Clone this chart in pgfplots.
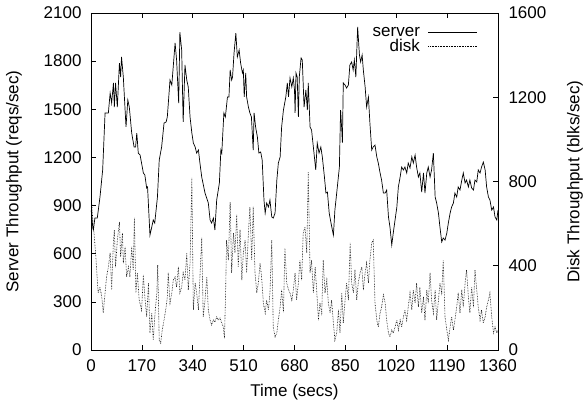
\documentclass[border=0pt]{standalone}
\usepackage{fontspec}
\setmainfont{Liberation Sans}
\usepackage{pgfplots}
\pgfplotsset{compat=1.18}

\begin{document}
\begin{tikzpicture}
\path[use as bounding box] (-91bp,-61bp) rectangle (493bp,350bp);
\pgfplotsset{
  every axis/.append style={
    width=407bp, height=337bp, scale only axis,
    font=\fontsize{17bp}{19bp}\selectfont,
    /pgf/number format/assume math mode=true,
    /pgf/number format/1000 sep={},
    axis line style={line width=0.8bp},
    every tick/.style={black, line width=0.6bp},
    major tick length=5bp,
    tick align=inside,
    xmin=0, xmax=1360,
  },
}
% left axis: server
\begin{axis}[
  ymin=0, ymax=2100,
  xtick distance=170, ytick distance=300,
  xtick pos=both, ytick pos=left,
  xlabel={Time (secs)},
  ylabel={Server Throughput (reqs/sec)},
  x label style={at={(axis description cs:0.5,-0.125)}, anchor=center},
  y label style={at={(axis description cs:-0.189,0.5)}, anchor=center},
  xticklabel style={yshift=-6bp},
  yticklabel style={xshift=-6bp},
]
\addplot[black, line width=0.7bp] coordinates {
(0,870) (2,853) (6,760) (8,748) (13,822) (21,822) (30,953) (39,1122) (47,1477) (58,1477)
(64,1601) (69,1539) (75,1664) (78,1514) (82,1664) (88,1514) (95,1788) (99,1701) (102,1826) (108,1701)
(117,1390) (123,1558) (128,1514) (136,1352) (144,1265) (149,1265) (153,1352) (158,1227) (164,1215) (175,1103)
(180,1090) (186,1009) (189,1016) (197,716) (203,766) (208,810) (213,791) (222,953) (228,1184) (236,1265)
(244,1414) (251,1421) (255,1452) (264,1682) (270,1651) (281,1913) (286,1807) (293,1539) (297,1981) (303,1869)
(308,1421) (314,1776) (320,1682) (325,1639) (331,1452) (337,1352) (342,1290) (348,1265) (353,1227) (359,1246)
(364,1165) (370,1078) (381,978) (392,916) (398,810) (403,791) (409,822) (414,748) (420,935) (429,1041)
(434,1246) (437,1227) (444,1477) (449,1452) (456,1577) (461,1577) (465,1745) (470,1682) (473,1701) (478,1851)
(484,1975) (489,1826) (495,1869) (500,1788) (506,1726) (509,1745) (512,1577) (517,1726) (520,1577) (526,1514)
(531,1477) (536,1452) (542,1246) (545,1477) (550,1390) (556,1327) (561,1227) (567,1234) (572,1184) (578,935)
(582,853) (587,916) (593,891) (598,935) (604,829) (609,822) (615,853) (621,1059) (626,1165) (632,1203)
(637,1390) (643,1495) (651,1577) (656,1664) (660,1577) (665,1695) (671,1639) (676,1695) (680,1620) (682,1477)
(685,1726) (689,1701) (693,1452) (696,1701) (702,1820) (706,1807) (712,1514) (718,1620) (723,1495) (726,1664)
(732,1390) (737,1371) (743,1265) (751,1122) (756,1290) (762,1227) (768,1265) (773,1203) (780,1078) (785,978)
(790,984) (796,853) (802,791) (810,716) (815,872) (821,978) (830,1140) (834,1495) (838,1371) (840,1290)
(843,1664) (849,1651) (854,1632) (860,1651) (865,1776) (871,1795) (876,1745) (880,1807) (885,1701) (891,2013)
(897,1838) (901,1795) (906,1838) (910,1745) (916,1639) (921,1514) (927,1577) (932,1414) (938,1246) (943,1265)
(949,1277) (955,1203) (960,1165) (966,1103) (971,1059) (977,978) (983,978) (988,997) (994,829) (999,766)
(1005,654) (1010,729) (1016,810) (1022,891) (1027,1016) (1033,1078) (1038,1140) (1044,1122) (1049,1140) (1055,1103)
(1060,1165) (1066,1134) (1072,1203) (1077,1165) (1083,1215) (1088,1140) (1094,1078) (1099,1103) (1105,984) (1111,1103)
(1116,978) (1122,1103) (1127,1140) (1133,1078) (1138,1122) (1144,1227) (1150,953) (1155,916) (1161,853) (1166,766)
(1172,673) (1177,698) (1183,685) (1189,729) (1194,791) (1200,853) (1205,891) (1211,916) (1216,978) (1222,953)
(1227,1016) (1233,997) (1239,1059) (1244,1103) (1250,1041) (1255,1059) (1261,1016) (1266,1059) (1272,1009) (1278,997)
(1283,1059) (1289,1047) (1294,1122) (1300,1103) (1305,1140) (1311,1171) (1317,1122) (1322,1016) (1328,953) (1333,935)
(1339,872) (1345,891) (1350,829) (1356,810) (1360,872)
};
\end{axis}
% right axis: disk
\begin{axis}[
  ymin=0, ymax=1600, ytick distance=400,
  axis x line=none, axis y line*=right,
  ylabel={Disk Throughput (blks/sec)},
  y label style={at={(axis description cs:1.189,0.5)}, anchor=center},
  yticklabel style={xshift=7bp},
  legend style={at={(0.953,0.962)}, anchor=north east, draw=none, fill=none,
    legend cell align=right, row sep=2bp, inner sep=1bp,
    nodes={inner xsep=3bp, inner ysep=0bp}},
  legend plot pos=right,
  legend image code/.code={\path (0bp,0bp); \draw[#1] (5bp,0bp) -- (54bp,0bp);},
]
\addlegendimage{black, line width=0.7bp}
\addlegendentry{server}
\addplot[black, line width=0.6bp, densely dotted] coordinates {
(0,660) (2,703) (6,617) (10,555) (17,427) (21,332) (24,271) (30,299) (36,252) (41,176)
(47,271) (52,347) (58,394) (64,461) (69,285) (75,522) (78,570) (82,394) (88,522) (95,608)
(99,442) (105,555) (108,413) (114,489) (119,347) (125,394) (130,347) (136,489) (141,380) (145,627)
(150,271) (155,366) (161,237) (169,190) (175,356) (180,252) (186,157) (192,318) (197,81) (203,176)
(208,47) (214,176) (220,271) (223,404) (228,47) (233,33) (238,95) (244,142) (251,204) (255,252)
(258,366) (264,223) (270,271) (275,332) (281,347) (286,299) (292,394) (297,271) (303,299) (308,366)
(314,332) (320,461) (325,285) (331,413) (337,817) (342,190) (348,318) (353,271) (359,190) (364,347)
(370,532) (375,157) (381,237) (387,347) (392,190) (398,142) (403,119) (409,142) (414,133) (420,157)
(425,142) (431,152) (437,128) (442,109) (446,57) (450,285) (453,522) (459,427) (465,703) (470,366)
(476,555) (481,461) (487,641) (492,394) (498,570) (504,332) (509,461) (515,522) (520,366) (526,555)
(531,679) (537,427) (542,679) (548,366) (554,271) (559,318) (565,413) (570,347) (576,223) (582,176)
(587,237) (593,190) (598,271) (604,522) (609,109) (615,62) (621,81) (626,142) (632,204) (637,285)
(643,180) (648,484) (654,318) (660,285) (665,271) (671,237) (676,285) (682,366) (687,237) (693,318)
(698,427) (704,332) (709,555) (715,584) (721,461) (726,845) (732,366) (737,427) (743,271) (749,394)
(754,285) (760,142) (765,223) (771,176) (776,427) (782,271) (788,332) (793,223) (799,176) (804,237)
(810,128) (815,47) (821,81) (827,190) (832,81) (838,271) (843,128) (849,237) (854,318) (860,237)
(866,508) (871,318) (877,271) (882,380) (888,237) (893,318) (899,366) (905,394) (910,285) (916,366)
(921,413) (927,318) (932,427) (938,508) (943,522) (949,223) (955,142) (960,109) (966,176) (971,204)
(977,261) (983,223) (988,142) (994,81) (999,62) (1005,95) (1010,81) (1016,109) (1022,142) (1027,95)
(1033,142) (1038,109) (1044,157) (1049,190) (1055,142) (1060,204) (1066,271) (1072,190) (1077,285) (1083,223)
(1088,318) (1094,204) (1099,299) (1105,176) (1111,252) (1116,142) (1122,285) (1127,223) (1133,366) (1138,237)
(1144,176) (1150,285) (1155,142) (1161,237) (1166,318) (1172,271) (1177,427) (1183,157) (1189,95) (1194,47)
(1200,109) (1205,157) (1211,95) (1216,142) (1222,204) (1227,271) (1233,176) (1239,285) (1244,204) (1250,318)
(1255,380) (1261,252) (1266,176) (1272,299) (1278,204) (1283,380) (1289,285) (1294,204) (1300,142) (1305,190)
(1311,128) (1317,157) (1322,204) (1328,237) (1333,271) (1339,157) (1345,81) (1350,109) (1356,81) (1360,95)
};
\addlegendentry{disk}
\end{axis}
\end{tikzpicture}
\end{document}
